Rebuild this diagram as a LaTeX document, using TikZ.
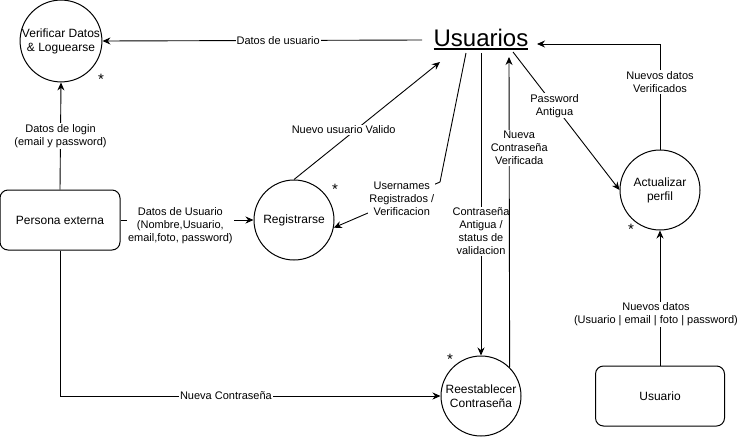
\documentclass[tikz,border=0pt]{standalone}
\usepackage{fontspec}
\setmainfont{Liberation Sans}
\usetikzlibrary{arrows.meta}
\begin{document}
\begin{tikzpicture}[x=1pt,y=-1pt,
  proc/.style={circle,draw,line width=1pt,minimum size=80pt,inner sep=0pt,align=center,font=\fontsize{12}{14}\selectfont},
  ent/.style={draw,rounded corners=8pt,line width=1pt,minimum width=120pt,minimum height=60pt,font=\fontsize{12}{14}\selectfont},
  lbl/.style={fill=white,inner sep=1pt,align=center,font=\fontsize{11}{13}\selectfont},
  flow/.style={draw,line width=0.9pt,-{Stealth[length=8pt,width=7pt]}},
  star/.style={font=\fontsize{15}{15}\selectfont,inner sep=0pt}]
\useasboundingbox (0,0) rectangle (738,437);
\fill[white] (0,0) rectangle (738,437);
% nodes
\node[proc] (ver) at (61,41) {Verificar Datos\\\& Loguearse};
\node[ent] (per) at (60,220) {Persona externa};
\node[proc] (reg) at (294,220) {Registrarse};
\node[font=\fontsize{24}{28}\selectfont,inner sep=1pt] (us) at (481,40)
  {\setbox0\hbox{Usuarios}\rlap{\vrule height -1.5pt depth 3.5pt width\wd0}\box0};
\node[proc] (act) at (660,190) {Actualizar\\perfil};
\node[proc] (rst) at (481,396) {Reestablecer\\Contraseña};
\node[ent,minimum width=129pt] (usu) at (660,396) {Usuario};
% asterisks
\node[star] (s1) at (101,79) {*};
\node[star] (s2) at (335,189) {*};
\node[star] (s3) at (631,229) {*};
\node[star] (s4) at (450,359) {*};
% free ends
\coordinate (uL) at (422,40);
\coordinate (uA) at (440,62);
\coordinate (uB) at (466,53);
\coordinate (uB2) at (440,182);
\coordinate (uC) at (481,53);
\coordinate (uD) at (509,57);
\coordinate (uE) at (513,52);
\coordinate (uF) at (660,44);
\coordinate (uG) at (537,44);
% connectors
\draw[flow] (uL) -- node[lbl,pos=.45]{Datos de usuario} (ver.east);
\draw[flow] (per.north) -- node[lbl]{Datos de login\\(email y password)} (ver.south);
\draw[flow] (per.east) -- node[lbl,pos=.45,yshift=-6pt]{Datos de Usuario\\(Nombre,Usuario,\\email,foto, password)} (reg.west);
\draw[flow] (reg.north) -- node[lbl,pos=.34,yshift=10pt]{Nuevo usuario Valido} (uA);
\draw[flow] (uB) -- (uB2) -- node[lbl,pos=.36]{Usernames\\Registrados /\\Verificacion} (reg.-11);
\draw[flow] (uC) -- node[lbl,pos=.59]{Contraseña\\Antigua /\\status de\\validacion} (rst.north);
\draw[flow] (rst.45) -- node[lbl,pos=.706,xshift=10pt]{Nueva\\Contraseña\\Verificada} (uD);
\draw[flow] (uE) -- node[lbl,pos=.39]{Password\\Antigua} (act.west);
\draw[flow] (act.north) -- node[lbl,pos=.64]{Nuevos datos\\Verificados} (uF) -- (uG);
\draw[flow] (usu.north) -- node[lbl,pos=.38,xshift=-4pt]{Nuevos datos\\(Usuario | email | foto | password)} (act.south);
\draw[flow] (per.south) |- node[lbl,pos=.718]{Nueva Contraseña} (rst.west);
\end{tikzpicture}
\end{document}
